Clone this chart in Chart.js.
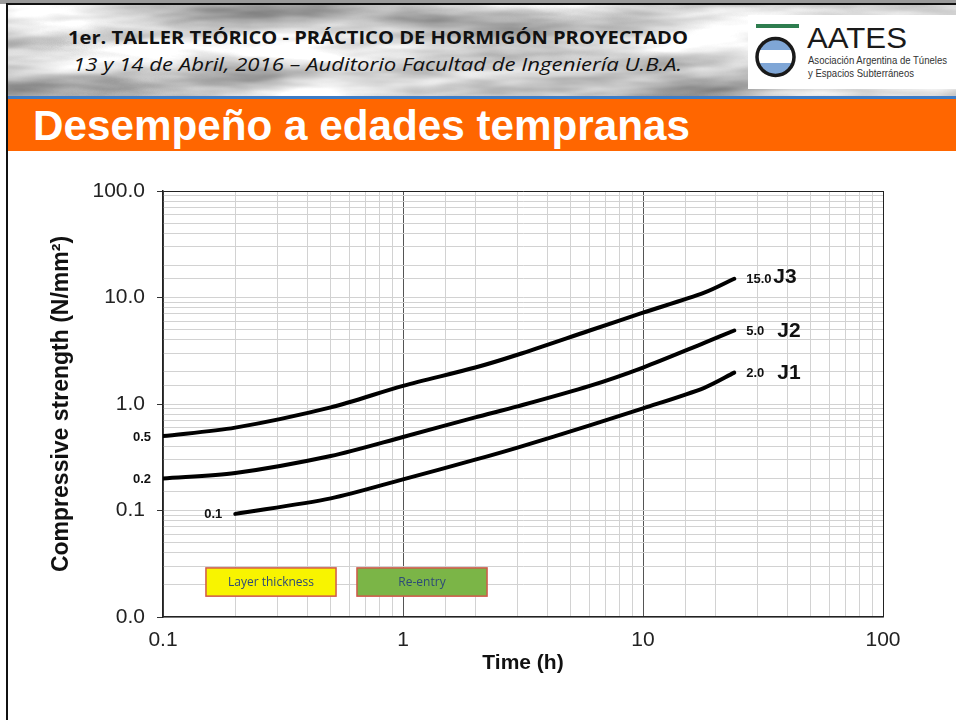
<!DOCTYPE html>
<html>
<head>
<meta charset="utf-8">
<script src="https://cdn.jsdelivr.net/npm/chart.js@4.4.1/dist/chart.umd.min.js"></script>
<style>
  html, body { margin: 0; padding: 0; background: #fff; }
  #page { position: relative; width: 956px; height: 720px; overflow: hidden; background: #fff; }
  #head { position: absolute; left: 0; top: 0; }
  #chart { position: absolute; left: 0; top: 152px; }
</style>
</head>
<body>
<div id="page">
  <svg id="head" width="956" height="720" xmlns="http://www.w3.org/2000/svg">
    <defs>
      <filter id="marble" x="0" y="0" width="100%" height="100%" color-interpolation-filters="sRGB">
        <feTurbulence type="fractalNoise" baseFrequency="0.005 0.03" numOctaves="4" seed="11"/>
        <feColorMatrix type="matrix" values="0.85 0 0 0 0.38  0.85 0 0 0 0.38  0.85 0 0 0 0.38  0 0 0 0 1"/>
      </filter>
    </defs>
    <rect x="0" y="0" width="956" height="4" fill="#9a9a9a"/>
    <rect x="7" y="4" width="949" height="93" filter="url(#marble)"/>
    <rect x="6" y="3" width="950" height="2" fill="#111"/>
    <rect x="6" y="3" width="2" height="717" fill="#111"/>
    <rect x="8" y="96" width="948" height="3" fill="#3d7cc6"/>
    <rect x="8" y="99" width="948" height="52" fill="#ff6600"/>

    <text x="68" y="43.5" font-family="'Open Sans', sans-serif" font-weight="bold" font-size="18" fill="#111"
          textLength="620" lengthAdjust="spacingAndGlyphs">1er. TALLER TEÓRICO - PRÁCTICO DE HORMIGÓN PROYECTADO</text>
    <text x="73" y="71" font-family="'Open Sans', sans-serif" font-style="italic" font-size="18" fill="#111"
          textLength="609" lengthAdjust="spacingAndGlyphs">13 y 14 de Abril, 2016 – Auditorio Facultad de Ingeniería U.B.A.</text>

    <rect x="748" y="15" width="208" height="74" fill="#fff"/>
    <rect x="756" y="24" width="43" height="4" fill="#2e7d4f"/>
    <clipPath id="disc"><circle cx="775.5" cy="57" r="18"/></clipPath>
    <g clip-path="url(#disc)">
      <rect x="755" y="37" width="42" height="42" fill="#7fa6d6"/>
      <rect x="755" y="50" width="42" height="13" fill="#fff"/>
    </g>
    <circle cx="775.5" cy="57" r="18.5" fill="none" stroke="#1a1a1a" stroke-width="3.5"/>
    <text x="807" y="48" font-family="'Liberation Sans', Arial, sans-serif" font-size="29" fill="#1a1a1a"
          textLength="100" lengthAdjust="spacingAndGlyphs">AATES</text>
    <text x="808" y="64" font-family="'Liberation Sans', Arial, sans-serif" font-size="11" fill="#333"
          textLength="139" lengthAdjust="spacingAndGlyphs">Asociación Argentina de Túneles</text>
    <text x="808" y="77" font-family="'Liberation Sans', Arial, sans-serif" font-size="11" fill="#333"
          textLength="106" lengthAdjust="spacingAndGlyphs">y Espacios Subterráneos</text>

    <text x="33" y="140" font-family="'Liberation Sans', Arial, sans-serif" font-weight="bold" font-size="42" fill="#fff"
          textLength="657" lengthAdjust="spacingAndGlyphs">Desempeño a edades tempranas</text>
  </svg>
  <canvas id="chart" width="956" height="568"></canvas>
</div>
<script>
// tiempo (h)
var timeJ3 = [0.1, 0.2, 0.5, 1, 2, 3, 6, 10, 18, 24];
var strengthJ3 = [0.5, 0.6, 0.93, 1.48, 2.2, 2.9, 4.9, 7.2, 11.1, 15];
var timeJ2 = [0.1, 0.2, 0.5, 1, 2, 3, 6, 10, 18, 24];
var strengthJ2 = [0.2, 0.225, 0.325, 0.49, 0.75, 0.95, 1.48, 2.2, 3.75, 4.9];
var timeJ1 = [0.2, 0.5, 1, 2, 3, 6, 10, 18, 24];
var strengthJ1 = [0.093, 0.13, 0.196, 0.3, 0.39, 0.63, 0.91, 1.42, 1.97];

var xTicks = [0.1, 1, 10, 100];
var yTicks = [0.01, 0.1, 1, 10, 100];

// etiquetas sobre el grafico (en unidades de datos)
var notes = [
  { text: '0.5', x: 0.1, y: 0.5, dx: -12, align: 'right', font: 'bold 13px "Liberation Sans", Arial' },
  { text: '0.2', x: 0.1, y: 0.2, dx: -12, align: 'right', font: 'bold 13px "Liberation Sans", Arial' },
  { text: '0.1', x: 0.2, y: 0.093, dx: -13, align: 'right', font: 'bold 13px "Liberation Sans", Arial' },
  { text: '15.0', x: 24, y: 15, dx: 12, align: 'left', font: 'bold 13px "Liberation Sans", Arial' },
  { text: 'J3', x: 24, y: 15, dx: 39, dy: -3, align: 'left', font: 'bold 21px "Liberation Sans", Arial' },
  { text: '5.0', x: 24, y: 4.9, dx: 12, align: 'left', font: 'bold 13px "Liberation Sans", Arial' },
  { text: 'J2', x: 24, y: 4.9, dx: 43, align: 'left', font: 'bold 21px "Liberation Sans", Arial' },
  { text: '2.0', x: 24, y: 1.97, dx: 12, align: 'left', font: 'bold 13px "Liberation Sans", Arial' },
  { text: 'J1', x: 24, y: 1.97, dx: 43, align: 'left', font: 'bold 21px "Liberation Sans", Arial' }
];
var boxes = [
  { text: 'Layer thickness', x0: 0.151, x1: 0.526, y0: 0.0289, y1: 0.0157, fill: '#f8f400' },
  { text: 'Re-entry', x0: 0.643, x1: 2.24, y0: 0.0289, y1: 0.0157, fill: '#7bb547' }
];

function pts(t, v) {
  return t.map(function (x, i) { return { x: x, y: v[i] }; });
}
function isPow10(v) {
  var l = Math.log10(v);
  return Math.abs(l - Math.round(l)) < 1e-6;
}
function has(list, v) {
  return list.some(function (t) { return Math.abs(t - v) / t < 1e-6; });
}

var overlay = {
  id: 'overlay',
  afterDatasetsDraw: function (chart) {
    var ctx = chart.ctx, xs = chart.scales.x, ys = chart.scales.y;
    ctx.save();
    boxes.forEach(function (b) {
      var l = xs.getPixelForValue(b.x0), r = xs.getPixelForValue(b.x1);
      var t = ys.getPixelForValue(b.y0), btm = ys.getPixelForValue(b.y1);
      ctx.fillStyle = b.fill;
      ctx.fillRect(l, t, r - l, btm - t);
      ctx.strokeStyle = '#d0584a';
      ctx.lineWidth = 1.5;
      ctx.strokeRect(l, t, r - l, btm - t);
      ctx.fillStyle = '#2d4a78';
      ctx.font = '12px "Open Sans", sans-serif';
      ctx.textAlign = 'center';
      ctx.textBaseline = 'middle';
      ctx.fillText(b.text, (l + r) / 2, (t + btm) / 2 + 1);
    });
    notes.forEach(function (n) {
      ctx.font = n.font;
      ctx.fillStyle = '#111';
      ctx.textAlign = n.align;
      ctx.textBaseline = 'middle';
      ctx.fillText(n.text, xs.getPixelForValue(n.x) + n.dx, ys.getPixelForValue(n.y) + 1 + (n.dy || 0));
    });
    ctx.restore();
  }
};

var lineStyle = {
  borderColor: '#000',
  borderWidth: 4,
  pointRadius: 0,
  fill: false,
  tension: 0.3,
  borderCapStyle: 'round'
};

new Chart(document.getElementById('chart'), {
  type: 'line',
  data: {
    datasets: [
      Object.assign({ label: 'J3', data: pts(timeJ3, strengthJ3) }, lineStyle),
      Object.assign({ label: 'J2', data: pts(timeJ2, strengthJ2) }, lineStyle),
      Object.assign({ label: 'J1', data: pts(timeJ1, strengthJ1) }, lineStyle)
    ]
  },
  options: {
    responsive: false,
    animation: false,
    layout: { padding: { left: 0, right: 73, top: 39, bottom: 0 } },
    plugins: { legend: { display: false }, tooltip: { enabled: false } },
    scales: {
      x: {
        type: 'logarithmic',
        min: 0.1,
        max: 100,
        afterFit: function (s) { s.height = 103; },
        border: { color: '#222', width: 1.5 },
        grid: {
          drawTicks: false,
          lineWidth: 1,
          color: function (c) {
            var v = c.tick && c.tick.value;
            if (v >= 99.9) return '#222';
            return isPow10(v) ? '#555' : '#d2d2d2';
          }
        },
        ticks: {
          autoSkip: false,
          maxRotation: 0,
          padding: 11,
          color: '#222',
          font: { family: '"Liberation Sans", Arial, sans-serif', size: 21 },
          callback: function (v) { return has(xTicks, v) ? String(Number(v.toPrecision(1))) : ''; }
        },
        title: {
          display: true,
          text: 'Time (h)',
          color: '#111',
          font: { family: '"Liberation Sans", Arial, sans-serif', size: 21, weight: 'bold' },
          padding: { top: 0, bottom: 44 }
        }
      },
      y: {
        type: 'logarithmic',
        min: 0.01,
        max: 100,
        afterFit: function (s) { s.width = 163; },
        border: { color: '#222', width: 1.5 },
        grid: {
          tickLength: 6,
          lineWidth: 1,
          color: function (c) {
            var v = c.tick && c.tick.value;
            return v >= 99.9 ? '#222' : '#d2d2d2';
          },
          tickColor: function (c) {
            return has(yTicks, c.tick.value) ? '#333' : 'rgba(0,0,0,0)';
          }
        },
        ticks: {
          autoSkip: false,
          padding: 12,
          color: '#222',
          font: { family: '"Liberation Sans", Arial, sans-serif', size: 21 },
          callback: function (v) { return has(yTicks, v) ? v.toFixed(1) : ''; }
        },
        title: {
          display: true,
          text: 'Compressive strength (N/mm²)',
          color: '#111',
          font: { family: '"Liberation Sans", Arial, sans-serif', size: 23, weight: 'bold' },
          padding: { top: 48, bottom: 0 }
        }
      }
    }
  },
  plugins: [overlay]
});
</script>
</body>
</html>
